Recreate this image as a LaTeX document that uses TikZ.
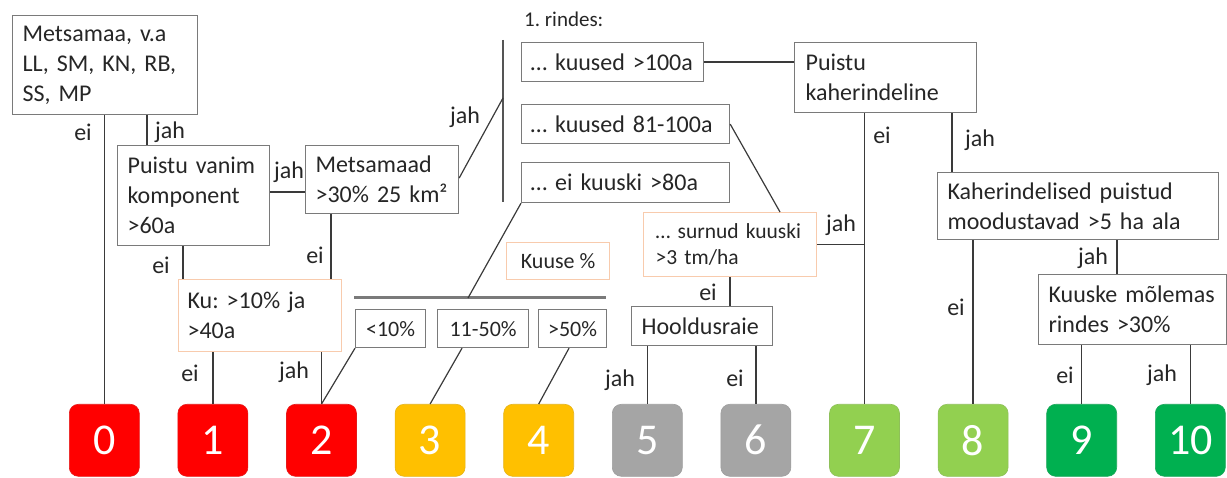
\documentclass[tikz,border=0pt]{standalone}
\usepackage{fontspec}
\setmainfont{Carlito}
\frenchspacing
\definecolor{ink}{HTML}{262626}
\definecolor{edge}{HTML}{7A7A7A}
\definecolor{wire}{HTML}{3A3A3A}
\definecolor{peach}{HTML}{F8CBAD}
\definecolor{cred}{HTML}{FF0000}
\definecolor{camber}{HTML}{FFC000}
\definecolor{cgrey}{HTML}{A5A5A5}
\definecolor{clime}{HTML}{92D050}
\definecolor{cgreen}{HTML}{00B050}
\begin{document}
\begin{tikzpicture}[x=1pt,y=-1pt,
  box/.style={draw=edge, line width=1.2pt, anchor=north west, align=left,
    inner xsep=10pt, inner ysep=0pt, text=ink, font=\fontsize{24}{30}\selectfont},
  obox/.style={box, draw=peach},
  small/.style={draw=edge, line width=1.2pt, anchor=north west, align=center,
    inner sep=0pt, text=ink, font=\fontsize{22}{24}\selectfont},
  lbl/.style={text=ink, inner sep=0pt, font=\fontsize{24}{26}\selectfont},
  link/.style={draw=wire, line width=1.5pt},
  thin/.style={link, line width=1.2pt},
  bar/.style={draw=edge, line width=3pt},
  score/.style={anchor=north west, minimum width=70pt, minimum height=72pt,
    rounded corners=9pt, inner sep=0pt, text=white, fill=#1, draw=#1!80!gray,
    line width=0.6pt, font=\fontsize{44}{44}\selectfont}
]
\useasboundingbox (0,0) rectangle (1227,478);

% decision boxes
\node[box, text width=165pt, minimum height=99pt] (A) at (12,15)
  {Metsamaa, v.a\\LL, SM, KN, RB,\\SS, MP};
\node[box, text width=132pt, minimum height=100pt] (B) at (117,145)
  {Puistu vanim\\komponent\\>60a};
\node[box, text width=133pt, minimum height=68pt] (C) at (305,145)
  {Metsamaad\\>30\% 25 km²};
\node[obox, text width=145pt, minimum height=72pt, inner xsep=9pt] (Ku) at (178,279)
  {Ku: >10\% ja\\>40a};
\node[box, text width=164pt, minimum height=39pt, inner xsep=9pt] (D1) at (521,42) {… kuused >100a};
\node[box, text width=190pt, minimum height=39pt, inner xsep=9pt] (D2) at (521,104) {… kuused 81-100a};
\node[box, text width=190pt, minimum height=40pt, inner xsep=9pt] (D3) at (521,162) {… ei kuuski >80a};
\node[box, text width=160pt, minimum height=70pt, inner xsep=11pt] (E) at (794,42)
  {Puistu\\kaherindeline};
\node[box, text width=261pt, minimum height=67pt] (F) at (937,172)
  {Kaherindelised puistud\\moodustavad >5 ha ala};
\node[obox, text width=149pt, minimum height=64pt, inner xsep=12pt,
  font=\fontsize{21.5}{26}\selectfont] (G) at (643,212)
  {… surnud kuuski\\>3 tm/ha};
\node[box, text width=121pt, minimum height=39pt] (H) at (631,306) {Hooldusraie};
\node[box, text width=168pt, minimum height=70pt] (I) at (1038,274)
  {Kuuske mõlemas\\rindes >30\%};

% spruce share
\node[small, draw=peach, minimum width=103pt, minimum height=37pt] (Kp) at (506,242) {Kuuse \%};
\node[small, minimum width=70pt, minimum height=38pt] (P1) at (355,309) {<10\%};
\node[small, minimum width=91pt, minimum height=38pt] (P2) at (437,309) {11-50\%};
\node[small, minimum width=68pt, minimum height=38pt] (P3) at (538,309) {>50\%};
\coordinate (barL) at (354,298);
\coordinate (barR) at (606,298);
\coordinate (barM) at (468,298);
\draw[bar] (barL) -- (barR);

% first storey
\node[anchor=west, inner sep=0pt, text=ink, font=\fontsize{21}{24}\selectfont] (R) at (524,19) {1. rindes:};
\coordinate (vT) at (503,40);
\coordinate (vB) at (503,202);
\coordinate (vM) at (503,98);
\draw[link, line width=2.5pt, draw=edge!70!black] (vT) -- (vB);

% score boxes
\foreach \n/\c [count=\i from 0] in {0/cred,1/cred,2/cred,3/camber,4/camber,
    5/cgrey,6/cgrey,7/clime,8/clime,9/cgreen,10/cgreen}
  \node[score=\c] (b\n) at ({69+108.6*\i},404) {\n};

% branch positions
\coordinate (xAB) at (147,0);
\coordinate (xBK) at (183,0);
\coordinate (xCK) at (331,0);
\coordinate (xEF) at (952,0);
\coordinate (xFI) at (1117,0);
\coordinate (xDG) at (780,0);
\coordinate (xP2) at (462,0);
\coordinate (xP3) at (569,0);
\coordinate (yBC) at (0,192);
\coordinate (yCv) at (0,178);

% connectors
\draw[link] (A.south -| b0.north) -- (b0.north);
\draw[link] (A.south -| xAB) -- (B.north -| xAB);
\draw[link] (B.east |- yBC) -- (C.west |- yBC);
\draw[link] (B.south -| xBK) -- (Ku.north -| xBK);
\draw[link] (C.south -| xCK) -- (Ku.north -| xCK);
\draw[link] (Ku.south -| b1.north) -- (b1.north);
\draw[link] (Ku.south -| b2.north) -- (b2.north);
\draw[thin] (C.east |- yCv) -- (vM);
\draw[link] (D1.east) -- (D1.east -| E.west);
\draw[thin] (D2.east) -- (G.north -| xDG);
\draw[thin] (D3.south west) -- (barM);
\draw[thin] (P1.south west) -- (b2.north);
\draw[thin] (P2.south -| xP2) -- (b3.north);
\draw[thin] (P3.south -| xP3) -- (b4.north);
\draw[link] (E.south -| b7.north) -- (b7.north);
\draw[link] (G.east) -- (G.east -| b7.north);
\draw[link] (E.south -| xEF) -- (F.north -| xEF);
\draw[link] (G.south) -- (H.north -| G.south);
\draw[link] (H.south -| b5.north) -- (b5.north);
\draw[link] (H.south -| b6.north) -- (b6.north);
\draw[link] (F.south -| b8.north) -- (b8.north);
\draw[link] (F.south -| xFI) -- (I.north -| xFI);
\draw[link] (I.south -| b9.north) -- (b9.north);
\draw[link] (I.south -| b10.north) -- (b10.north);

% branch labels
\node[lbl] (l1) at (83,132) {ei};
\node[lbl] (l2) at (170,132) {jah};
\node[lbl] (l3) at (289,172) {jah};
\node[lbl] (l4) at (161,265) {ei};
\node[lbl] (l5) at (315,255) {ei};
\node[lbl] (l6) at (190,373) {ei};
\node[lbl] (l7) at (294,372) {jah};
\node[lbl] (l8) at (465,117) {jah};
\node[lbl] (l9) at (882,135) {ei};
\node[lbl] (l10) at (980,140) {jah};
\node[lbl] (l11) at (841,225) {jah};
\node[lbl] (l12) at (708,292) {ei};
\node[lbl] (l13) at (620,380) {jah};
\node[lbl] (l14) at (735,378) {ei};
\node[lbl] (l15) at (956,307) {ei};
\node[lbl] (l16) at (1093,258) {jah};
\node[lbl] (l17) at (1065,375) {ei};
\node[lbl] (l18) at (1162,375) {jah};
\end{tikzpicture}
\end{document}
